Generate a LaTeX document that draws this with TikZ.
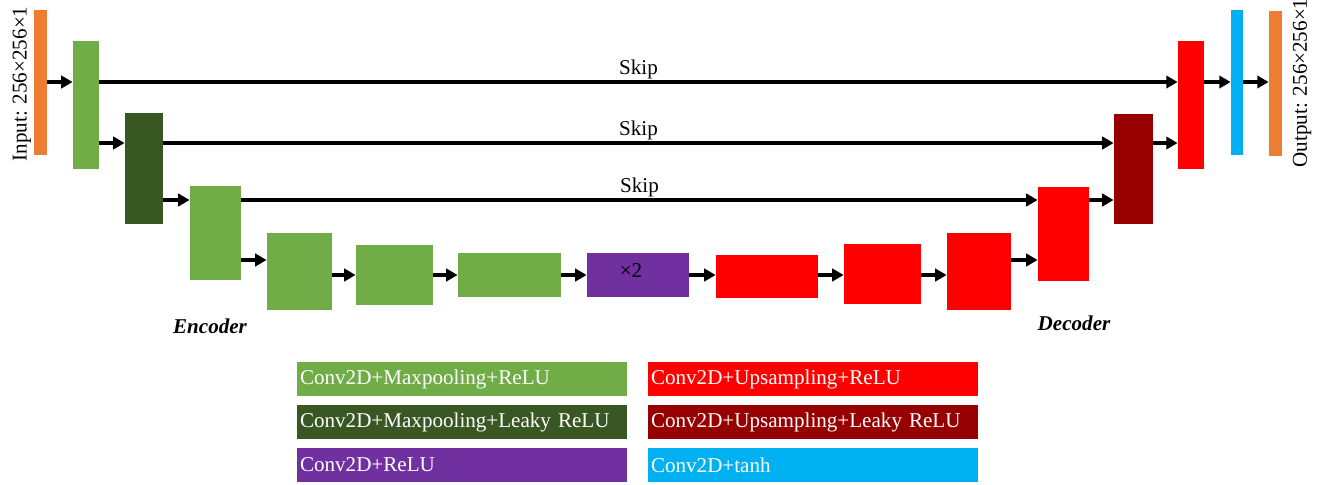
\documentclass[tikz,border=0pt]{standalone}
\usepackage{fontspec}
\setmainfont{Liberation Serif}
\usetikzlibrary{arrows.meta}

\newlength\px
\setlength\px{0.02cm}

\definecolor{ioorange}{HTML}{ED7D31}
\definecolor{encgreen}{HTML}{70AD47}
\definecolor{encdark}{HTML}{385723}
\definecolor{midpurple}{HTML}{7030A0}
\definecolor{decred}{HTML}{FF0000}
\definecolor{decdark}{HTML}{960000}
\definecolor{outcyan}{HTML}{00B0F0}

\tikzset{
  blk/.style 2 args={inner sep=0pt, minimum width=#1\px, minimum height=#2\px},
  arr/.style={line width=1.8pt, -{Triangle[length=6.5pt, width=7pt]}},
  leg/.style={fill=#1, text=white, inner xsep=0.06cm, inner ysep=0pt,
    minimum height=34\px, text width=6.48cm, align=left},
  tag/.style={font=\fontsize{12}{14}\selectfont\bfseries\itshape}
}

\begin{document}
\begin{tikzpicture}[x=0.02cm, y=-0.02cm, font=\fontsize{12}{14}\selectfont]
  \useasboundingbox (0,0) rectangle (1327,484);

  % heights at which the arrows run
  \coordinate (lvA) at (0,82);
  \coordinate (lvB) at (0,143);
  \coordinate (lvC) at (0,200);
  \coordinate (lvD) at (0,260);
  \coordinate (lvE) at (0,275);

  % encoder
  \node[blk={13}{145}, fill=ioorange] (in) at (40.5,82.5) {};
  \node[blk={26}{128}, fill=encgreen] (g1) at (86,105) {};
  \node[blk={38}{111}, fill=encdark] (dg) at (144,168.5) {};
  \node[blk={51}{94}, fill=encgreen] (g2) at (215.5,233) {};
  \node[blk={65}{77}, fill=encgreen] (g3) at (299.5,271.5) {};
  \node[blk={77}{60}, fill=encgreen] (g4) at (394.5,275) {};
  \node[blk={103}{44}, fill=encgreen] (g5) at (509.5,275) {};
  \node[blk={102}{44}, fill=midpurple] (pu) at (638,275) {};
  \node (rep) at (631,271) {×2};

  % decoder
  \node[blk={102}{43}, fill=decred] (r1) at (767,276.5) {};
  \node[blk={77}{60}, fill=decred] (r2) at (882.5,274) {};
  \node[blk={64}{77}, fill=decred] (r3) at (979,271.5) {};
  \node[blk={51}{94}, fill=decred] (r4) at (1063.5,234) {};
  \node[blk={39}{110}, fill=decdark] (dr) at (1133.5,169) {};
  \node[blk={26}{128}, fill=decred] (r5) at (1191,105) {};
  \node[blk={12}{145}, fill=outcyan] (cy) at (1237,82.5) {};
  \node[blk={13}{145}, fill=ioorange] (out) at (1275.5,83.5) {};

  \node[rotate=90] (inlbl) at (22,84) {Input: 256×256×1};
  \node[rotate=90] (outlbl) at (1302,83) {Output: 256×256×1};
  \node[tag] (enc) at (210,326) {Encoder};
  \node[tag] (dec) at (1074,323) {Decoder};

  % forward path
  \draw[arr] (in.east |- lvA) -- (g1.west |- lvA);
  \draw[arr] (g1.east |- lvB) -- (dg.west |- lvB);
  \draw[arr] (dg.east |- lvC) -- (g2.west |- lvC);
  \draw[arr] (g2.east |- lvD) -- (g3.west |- lvD);
  \draw[arr] (g3.east |- lvE) -- (g4.west |- lvE);
  \draw[arr] (g4.east |- lvE) -- (g5.west |- lvE);
  \draw[arr] (g5.east |- lvE) -- (pu.west |- lvE);
  \draw[arr] (pu.east |- lvE) -- (r1.west |- lvE);
  \draw[arr] (r1.east |- lvE) -- (r2.west |- lvE);
  \draw[arr] (r2.east |- lvE) -- (r3.west |- lvE);
  \draw[arr] (r3.east |- lvD) -- (r4.west |- lvD);
  \draw[arr] (r4.east |- lvC) -- (dr.west |- lvC);
  \draw[arr] (dr.east |- lvB) -- (r5.west |- lvB);
  \draw[arr] (r5.east |- lvA) -- (cy.west |- lvA);
  \draw[arr] (cy.east |- lvA) -- (out.west |- lvA);

  % skip connections
  \draw[arr] (g1.east |- lvA) -- node[midway, above, inner sep=1pt] {Skip} (r5.west |- lvA);
  \draw[arr] (dg.east |- lvB) -- node[midway, above, inner sep=1pt] {Skip} (dr.west |- lvB);
  \draw[arr] (g2.east |- lvC) -- node[midway, above, inner sep=1pt] {Skip} (r4.west |- lvC);

  % legend
  \node[leg=encgreen] (k1) at (462,379) {Conv2D+Maxpooling+ReLU};
  \node[leg=encdark] (k2) at (462,422) {Conv2D+Maxpooling+Leaky ReLU};
  \node[leg=midpurple] (k3) at (462,465) {Conv2D+ReLU};
  \node[leg=decred] (k4) at (813,379) {Conv2D+Upsampling+ReLU};
  \node[leg=decdark] (k5) at (813,422) {Conv2D+Upsampling+Leaky ReLU};
  \node[leg=outcyan] (k6) at (813,465) {Conv2D+tanh};
\end{tikzpicture}
\end{document}
